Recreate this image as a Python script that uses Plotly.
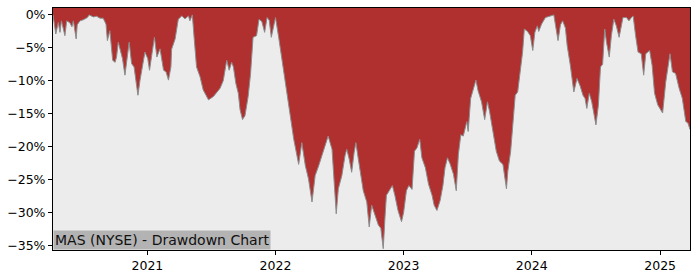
import plotly.graph_objects as go

dates = [
"2020-04-07","2020-04-10","2020-04-15","2020-04-22","2020-04-27","2020-05-01","2020-05-11","2020-05-16","2020-05-25","2020-05-31",
"2020-06-04","2020-06-12","2020-06-15","2020-06-23","2020-07-02","2020-07-14","2020-07-19","2020-07-31","2020-08-09","2020-08-19",
"2020-08-28","2020-09-05","2020-09-09","2020-09-16","2020-09-24","2020-10-01","2020-10-05","2020-10-10","2020-10-17","2020-10-22",
"2020-10-29","2020-11-03","2020-11-10","2020-11-17","2020-11-24","2020-11-29","2020-12-05","2020-12-11","2020-12-18","2020-12-25",
"2021-01-02","2021-01-07","2021-01-14","2021-01-21","2021-01-28","2021-02-06","2021-02-16","2021-02-23","2021-03-02","2021-03-09",
"2021-03-11","2021-03-21","2021-03-30","2021-04-09","2021-04-18","2021-04-28","2021-05-02","2021-05-09","2021-05-14","2021-05-21",
"2021-05-31","2021-06-09","2021-06-24","2021-07-08","2021-07-27","2021-08-05","2021-08-15","2021-08-22","2021-08-29","2021-09-03",
"2021-09-10","2021-09-17","2021-09-22","2021-09-29","2021-10-06","2021-10-15","2021-10-22","2021-10-29","2021-11-08","2021-11-15",
"2021-11-23","2021-12-01","2021-12-08","2021-12-14","2021-12-20","2022-01-01","2022-01-10","2022-01-20","2022-01-29","2022-02-12",
"2022-02-22","2022-03-08","2022-03-17","2022-03-27","2022-04-05","2022-04-15","2022-04-24","2022-05-04","2022-05-13","2022-05-23",
"2022-05-31","2022-06-11","2022-06-17","2022-06-23","2022-06-29","2022-07-09","2022-07-18","2022-07-23","2022-07-30","2022-08-06",
"2022-08-13","2022-08-18","2022-08-25","2022-09-03","2022-09-08","2022-09-18","2022-09-25","2022-10-02","2022-10-11","2022-10-21",
"2022-10-28","2022-11-04","2022-11-09","2022-11-13","2022-11-21","2022-11-30","2022-12-07","2022-12-16","2022-12-26","2023-01-01",
"2023-01-09","2023-01-16","2023-01-25","2023-02-01","2023-02-08","2023-02-16","2023-02-22","2023-03-04","2023-03-13","2023-03-23",
"2023-03-29","2023-04-06","2023-04-15","2023-04-23","2023-04-29","2023-05-06","2023-05-14","2023-05-23","2023-05-31","2023-06-06",
"2023-06-13","2023-06-20","2023-06-30","2023-07-04","2023-07-11","2023-07-18","2023-07-26","2023-08-01","2023-08-11","2023-08-20",
"2023-08-28","2023-09-03","2023-09-13","2023-09-22","2023-10-01","2023-10-11","2023-10-21","2023-10-25","2023-11-02","2023-11-08",
"2023-11-15","2023-11-22","2023-11-30","2023-12-06","2023-12-11","2023-12-20","2023-12-28","2024-01-04","2024-01-10","2024-01-17",
"2024-01-21","2024-01-29","2024-02-09","2024-02-23","2024-03-04","2024-03-09","2024-03-16","2024-03-23","2024-03-29","2024-04-06",
"2024-04-11","2024-04-20","2024-04-30","2024-05-09","2024-05-18","2024-05-26","2024-06-01","2024-06-06","2024-06-13","2024-06-20",
"2024-06-27","2024-07-02","2024-07-09","2024-07-15","2024-07-21","2024-07-27","2024-08-01","2024-08-09","2024-08-15","2024-08-22",
"2024-08-29","2024-09-06","2024-09-13","2024-09-17","2024-09-27","2024-10-04","2024-10-11","2024-10-16","2024-10-23","2024-10-30",
"2024-11-08","2024-11-15","2024-11-21","2024-12-02","2024-12-09","2024-12-16","2024-12-25","2025-01-08","2025-01-17","2025-01-24",
"2025-01-29","2025-02-05","2025-02-14","2025-02-24","2025-03-05","2025-03-15","2025-03-21","2025-03-27",
]

drawdown_pct = [
0.0,-0.9,-2.9,-1.15,-2.65,-0.9,-3.15,-0.9,-1.2,-1.8,
-0.9,-3.65,-1.5,-0.9,-0.75,-0.4,0.0,-0.3,-0.2,-0.5,
-0.5,-1.4,-3.9,-2.4,-6.9,-7.2,-6.4,-4.15,-5.4,-6.65,
-9.15,-6.9,-4.15,-7.4,-7.9,-9.9,-12.2,-9.9,-7.9,-5.65,
-6.65,-8.4,-5.9,-3.4,-6.4,-5.15,-8.4,-8.65,-9.9,-7.9,
-5.2,-3.65,-0.65,-0.15,-0.6,-0.15,-0.9,0.0,-3.4,-7.9,
-9.4,-11.4,-12.9,-12.4,-11.15,-10.0,-6.9,-8.4,-7.2,-7.9,
-10.4,-11.9,-14.4,-15.9,-15.3,-12.4,-8.9,-3.4,-3.15,-0.65,
-1.0,-2.65,-0.4,-0.8,-3.4,-0.4,-3.4,-6.9,-9.9,-14.9,
-18.9,-22.7,-19.4,-22.9,-24.9,-28.4,-24.4,-22.9,-21.4,-19.4,
-18.4,-20.4,-24.9,-30.2,-26.4,-24.4,-21.4,-20.4,-21.9,-23.9,
-20.9,-19.4,-21.9,-25.4,-26.7,-28.4,-32.2,-28.9,-30.4,-31.9,
-32.4,-35.5,-30.7,-27.4,-26.7,-25.9,-27.4,-29.7,-31.4,-30.0,
-26.7,-25.9,-26.5,-20.7,-20.2,-18.9,-21.7,-23.2,-25.7,-27.4,
-28.9,-29.7,-28.2,-25.9,-23.2,-21.7,-22.7,-24.2,-26.7,-21.2,
-18.2,-18.4,-16.2,-17.7,-12.7,-11.4,-9.9,-11.5,-13.2,-15.9,
-13.2,-14.7,-17.7,-20.7,-22.2,-22.7,-26.4,-23.7,-20.7,-17.2,
-12.2,-11.7,-7.9,-5.65,-2.15,-2.5,-3.15,-5.4,-2.65,-1.65,
-2.5,-1.4,-0.4,-0.15,0.0,-1.65,-3.9,-1.5,-0.9,-2.0,
-4.65,-7.65,-11.7,-9.65,-10.8,-12.2,-12.7,-14.2,-11.9,-13.2,
-15.2,-16.7,-13.7,-7.9,-7.5,-2.15,-4.15,-6.4,-3.15,-0.65,
-1.65,-3.4,-1.5,-0.4,-0.4,-0.9,-0.4,-0.15,-3.15,-5.65,
-5.9,-9.15,-5.9,-5.4,-7.65,-11.9,-13.65,-14.9,-10.15,-7.9,
-5.9,-8.65,-8.9,-11.15,-12.65,-16.2,-16.4,-17.4,
]

y_ticks = [0, -5, -10, -15, -20, -25, -30, -35]
y_tick_labels = ["0%", "\u22125%", "\u221210%", "\u221215%", "\u221220%", "\u221225%", "\u221230%", "\u221235%"]
x_ticks = ["2021-01-01", "2022-01-01", "2023-01-01", "2024-01-01", "2025-01-01"]
x_tick_labels = ["2021", "2022", "2023", "2024", "2025"]
title_text = "MAS (NYSE) - Drawdown Chart"

Y_MIN, Y_MAX = -35.7, 1.05
RED = "#b03030"
BG = "#ececec"

fig = go.Figure()
# upper boundary for the red area (top of the axis)
fig.add_trace(go.Scatter(x=dates, y=[Y_MAX] * len(dates), mode="lines",
                         line=dict(width=0), hoverinfo="skip", showlegend=False))
fig.add_trace(go.Scatter(x=dates, y=drawdown_pct, mode="lines", fill="tonexty",
                         fillcolor=RED, line=dict(color="#8c8c8c", width=1),
                         showlegend=False))

fig.update_layout(
    width=700, height=280,
    margin=dict(l=53, r=10, t=7, b=28),
    plot_bgcolor=BG, paper_bgcolor="white",
    font=dict(family="DejaVu Sans", size=12.5, color="black"),
    showlegend=False,
)
fig.update_xaxes(
    range=[dates[0], dates[-1]], tickvals=x_ticks, ticktext=x_tick_labels,
    showgrid=False, zeroline=False, showline=True, linecolor="black", linewidth=1,
    mirror=True, ticks="outside", ticklen=4, tickcolor="black",
)
fig.update_yaxes(
    range=[Y_MIN, Y_MAX], tickvals=y_ticks, ticktext=y_tick_labels,
    showgrid=False, zeroline=False, showline=True, linecolor="black", linewidth=1,
    mirror=True, ticks="outside", ticklen=4, tickcolor="black",
)
fig.add_annotation(
    text=title_text, xref="paper", yref="paper", x=0, y=0,
    xanchor="left", yanchor="bottom", showarrow=False,
    font=dict(family="DejaVu Sans", size=14, color="#111111"),
    bgcolor="#b3b3b3", borderpad=1,
)

fig.write_html("out.html")
